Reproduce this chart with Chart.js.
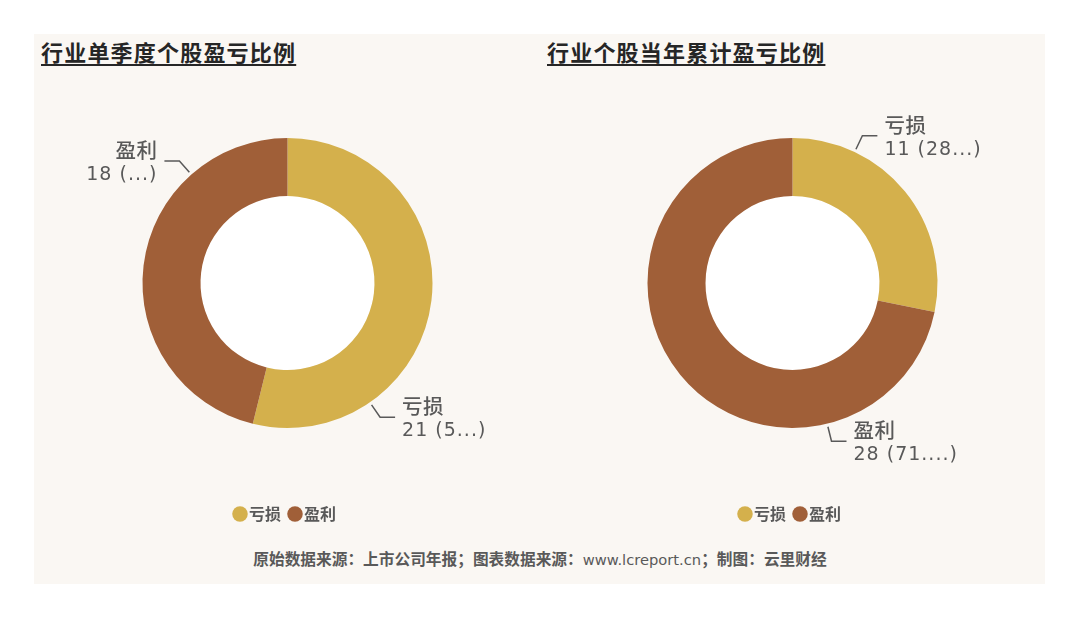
<!DOCTYPE html>
<html>
<head>
<meta charset="utf-8">
<script src="https://cdn.jsdelivr.net/npm/chart.js@4"></script>
<style>
  html, body { margin: 0; padding: 0; background: #ffffff; }
  body { width: 1080px; height: 618px; position: relative; overflow: hidden;
         font-family: "DejaVu Sans", "Noto Sans CJK SC", sans-serif; }
  #panel { position: absolute; left: 34px; top: 34px; width: 1011px; height: 550px; background: #faf7f3; }
  .title { position: absolute; top: 36px; font-family: "Noto Sans CJK SC", sans-serif; font-weight: bold;
           font-size: 22px; letter-spacing: 1.2px; color: #262626; text-decoration: underline;
           text-underline-offset: 3px; text-decoration-thickness: 2px; line-height: 30px; }
  .box { position: absolute; top: 73px; width: 505px; height: 469px; }
  #footer { position: absolute; top: 547px; left: 0; width: 1080px; text-align: center;
            font-family: "Noto Sans CJK SC", sans-serif; font-weight: bold; font-size: 15.7px; color: #595959; }
  #footer span { font-family: "DejaVu Sans", sans-serif; font-weight: normal; font-size: 14.7px; }
</style>
</head>
<body>
<div id="panel"></div>
<div class="title" style="left:41px">行业单季度个股盈亏比例</div>
<div class="title" style="left:547px">行业个股当年累计盈亏比例</div>
<div class="box" style="left:35px"><canvas id="leftChart"></canvas></div>
<div class="box" style="left:540px"><canvas id="rightChart"></canvas></div>
<div id="footer">原始数据来源：上市公司年报；图表数据来源：<span>www.lcreport.cn</span>；制图：云里财经</div>
<script>
const categories = ['亏损', '盈利'];
const colors = ['#d4b04c', '#a05f38'];

// 单季度
const quarterValues = [21, 18];
const quarterPctShown = ['5...', '...'];
// 当年累计
const yearValues = [11, 28];
const yearPctShown = ['28...', '71....'];

// Labels with elbow leader lines, anchored at a fraction along each slice
const labelPlugin = {
    id: 'elbowLabels',
    beforeDatasetsDraw(chart) {
        const arc = chart.getDatasetMeta(0).data[0];
        if (!arc) return;
        const ctx = chart.ctx;
        ctx.save();
        ctx.fillStyle = '#ffffff';
        ctx.beginPath();
        ctx.arc(arc.x, arc.y, arc.innerRadius, 0, Math.PI * 2);
        ctx.fill();
        ctx.restore();
    },
    afterDatasetsDraw(chart, args, opts) {
        const ctx = chart.ctx;
        const meta = chart.getDatasetMeta(0);
        const values = chart.data.datasets[0].data;
        meta.data.forEach((arc, i) => {
            const a = arc.startAngle + opts.frac * (arc.endAngle - arc.startAngle);
            const cos = Math.cos(a), sin = Math.sin(a);
            const r = arc.outerRadius + 3;
            const x0 = arc.x + r * cos, y0 = arc.y + r * sin;
            const x1 = x0 + 15 * cos, y1 = y0 + 15 * sin;
            const dir = cos >= 0 ? 1 : -1;
            const x2 = x1 + 15 * dir;
            ctx.save();
            ctx.strokeStyle = '#595959';
            ctx.lineWidth = 1.5;
            ctx.beginPath();
            ctx.moveTo(x0, y0);
            ctx.lineTo(x1, y1);
            ctx.lineTo(x2, y1);
            ctx.stroke();
            ctx.fillStyle = '#595959';
            ctx.textAlign = dir > 0 ? 'left' : 'right';
            ctx.textBaseline = 'middle';
            const tx = x2 + 7 * dir;
            ctx.font = '500 20.5px "Noto Sans CJK SC", sans-serif';
            ctx.letterSpacing = '0.5px';
            ctx.fillText(chart.data.labels[i], tx, y1 - 11);
            ctx.font = '19px "DejaVu Sans", "Noto Sans CJK SC", sans-serif';
            ctx.letterSpacing = '1px';
            ctx.fillText(values[i] + ' (' + opts.pct[i] + ')', tx, y1 + 14);
            ctx.restore();
        });
    }
};

function makeChart(id, values, pctShown, frac) {
    return new Chart(document.getElementById(id), {
        type: 'doughnut',
        data: {
            labels: categories,
            datasets: [{
                data: values,
                backgroundColor: colors,
                borderWidth: 0,
                hoverOffset: 0
            }]
        },
        options: {
            responsive: true,
            maintainAspectRatio: false,
            animation: false,
            radius: 145,
            cutout: '60%',
            layout: { padding: { top: 0, bottom: 10 } },
            plugins: {
                tooltip: { enabled: false },
                legend: {
                    position: 'bottom',
                    labels: {
                        usePointStyle: true,
                        pointStyle: 'circle',
                        boxWidth: 2,
                        boxHeight: 11,
                        padding: 13,
                        color: '#595959',
                        font: { size: 16, weight: 'bold', family: '"Noto Sans CJK SC", sans-serif' }
                    }
                },
                elbowLabels: { frac: frac, pct: pctShown }
            }
        },
        plugins: [labelPlugin]
    });
}

const leftChart = makeChart('leftChart', quarterValues, quarterPctShown, 0.75);
const rightChart = makeChart('rightChart', yearValues, yearPctShown, 0.25);
</script>
</body>
</html>
